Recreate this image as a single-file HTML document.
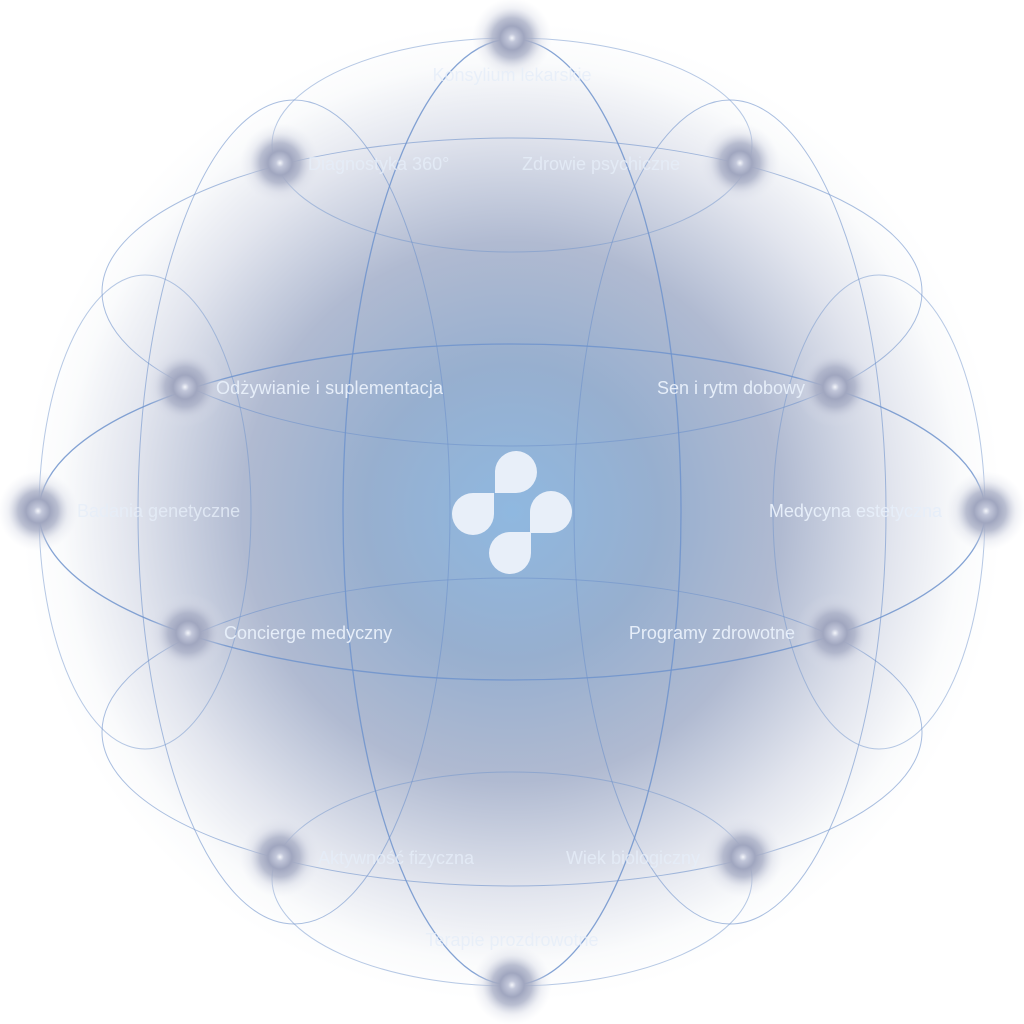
<!DOCTYPE html>
<html><head><meta charset="utf-8"><style>
html,body{margin:0;padding:0;background:#fff;width:1024px;height:1024px;overflow:hidden}
svg{display:block}
text{font-family:"Liberation Sans",sans-serif;font-size:18px;fill:#e6eef9}
</style></head><body>
<svg width="1024" height="1024" viewBox="0 0 1024 1024">
<defs>
<radialGradient id="bg" cx="512" cy="512" r="490" gradientUnits="userSpaceOnUse">
<stop offset="0" stop-color="#8fb8e0"/>
<stop offset="0.3" stop-color="#97afcf"/>
<stop offset="0.55" stop-color="#b0bad1"/>
<stop offset="0.78" stop-color="#e2e5ee"/>
<stop offset="0.92" stop-color="#fafbfc"/>
<stop offset="1" stop-color="#ffffff"/>
</radialGradient>
<radialGradient id="node">
<stop offset="0" stop-color="#f4f6fb"/>
<stop offset="0.1" stop-color="#c2c7da"/>
<stop offset="0.3" stop-color="#a0a6bf"/>
<stop offset="0.5" stop-color="#a9afc6" stop-opacity="0.8"/>
<stop offset="0.75" stop-color="#cdd1e0" stop-opacity="0.3"/>
<stop offset="1" stop-color="#dfe2ec" stop-opacity="0"/>
</radialGradient>
</defs>
<rect width="1024" height="1024" fill="#fff"/>
<circle cx="512" cy="512" r="490" fill="url(#bg)"/>
<g fill="none" stroke="#6f93cc" stroke-width="1">
<ellipse cx="512" cy="512" rx="473" ry="168" stroke-opacity="0.85" stroke-width="1.3"/>
<ellipse cx="512" cy="512" rx="169" ry="473" stroke-opacity="0.85" stroke-width="1.3"/>
<ellipse cx="512" cy="145" rx="240" ry="107" stroke-opacity="0.5"/>
<ellipse cx="512" cy="879" rx="240" ry="107" stroke-opacity="0.5"/>
<ellipse cx="512" cy="292" rx="410" ry="154" stroke-opacity="0.6"/>
<ellipse cx="512" cy="732" rx="410" ry="154" stroke-opacity="0.6"/>
<ellipse cx="294" cy="512" rx="156" ry="412" stroke-opacity="0.6"/>
<ellipse cx="730" cy="512" rx="156" ry="412" stroke-opacity="0.6"/>
<ellipse cx="145" cy="512" rx="106" ry="237" stroke-opacity="0.5"/>
<ellipse cx="879" cy="512" rx="106" ry="237" stroke-opacity="0.5"/>
</g>
<g>
<circle cx="512" cy="38" r="40" fill="url(#node)"/>
<circle cx="280" cy="163" r="40" fill="url(#node)"/>
<circle cx="740" cy="163" r="40" fill="url(#node)"/>
<circle cx="185" cy="387" r="40" fill="url(#node)"/>
<circle cx="835" cy="387" r="40" fill="url(#node)"/>
<circle cx="38" cy="511" r="40" fill="url(#node)"/>
<circle cx="986" cy="511" r="40" fill="url(#node)"/>
<circle cx="188" cy="633" r="40" fill="url(#node)"/>
<circle cx="835" cy="633" r="40" fill="url(#node)"/>
<circle cx="280" cy="857" r="40" fill="url(#node)"/>
<circle cx="743" cy="857" r="40" fill="url(#node)"/>
<circle cx="512" cy="985" r="40" fill="url(#node)"/>
</g>
<g>
<text x="512" y="81" text-anchor="middle" opacity="0.8">Konsylium lekarskie</text>
<text x="308" y="170" opacity="0.8">Diagnostyka 360°</text>
<text x="522" y="170" opacity="0.8">Zdrowie psychiczne</text>
<text x="216" y="394" textLength="227">Odżywianie i suplementacja</text>
<text x="805" y="394" text-anchor="end">Sen i rytm dobowy</text>
<text x="77" y="517" opacity="0.8">Badania genetyczne</text>
<text x="942" y="517" text-anchor="end">Medycyna estetyczna</text>
<text x="224" y="639">Concierge medyczny</text>
<text x="795" y="639" text-anchor="end">Programy zdrowotne</text>
<text x="318" y="864" opacity="0.8">Aktywność fizyczna</text>
<text x="700" y="864" text-anchor="end" opacity="0.8">Wiek biologiczny</text>
<text x="512" y="946" text-anchor="middle" opacity="0.8">Terapie prozdrowotne</text>
</g>
<g fill="#e8eff9">
<path d="M495 493 V471 A21 21 0 1 1 516 493 Z"/>
<path d="M494 493 V514 A21 21 0 1 1 473 493 Z"/>
<path d="M530 533 V512 A21 21 0 1 1 551 533 Z"/>
<path d="M531 532 V553 A21 21 0 1 1 510 532 Z"/>
</g>
</svg>
</body></html>
